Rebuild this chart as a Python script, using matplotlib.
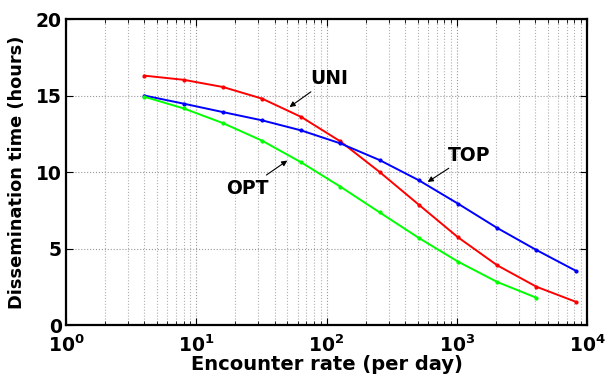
import matplotlib
matplotlib.use("Agg")
import matplotlib.pyplot as plt
import matplotlib.ticker as ticker

plt.rcParams['font.family'] = ['DejaVu Sans']
plt.rcParams['font.weight'] = 'bold'
plt.rcParams['mathtext.fontset'] = 'custom'
plt.rcParams['mathtext.rm'] = 'DejaVu Sans:bold'
plt.rcParams['mathtext.it'] = 'DejaVu Sans:bold'
plt.rcParams['mathtext.bf'] = 'DejaVu Sans:bold'

# encounter rates (per day)
rate = [4, 8, 16, 32, 64, 128, 256, 512, 1024, 2048, 4096, 8192]
uni = [16.3, 16.03, 15.56, 14.8, 13.6, 12.0, 10.0, 7.86, 5.73, 3.9, 2.5, 1.52]
top = [15.0, 14.47, 13.92, 13.38, 12.72, 11.87, 10.78, 9.46, 7.93, 6.34, 4.9, 3.55]
opt = [14.92, 14.16, 13.2, 12.05, 10.63, 9.04, 7.36, 5.69, 4.14, 2.81, 1.78]

xticks = [1, 10, 100, 1000, 10000]
xticklabels = [r'$10^{0}$', r'$10^{1}$', r'$10^{2}$', r'$10^{3}$', r'$10^{4}$']
yticks = [0, 5, 10, 15, 20]

fig = plt.figure(figsize=(6.06, 3.74), dpi=100)
ax = fig.add_axes([0.109, 0.131, 0.8596, 0.818])

ax.plot(rate, uni, '-', color='#ff0000', lw=1.4, marker='.', ms=4)
ax.plot(rate, top, '-', color='#0000ff', lw=1.4, marker='.', ms=4)
ax.plot(rate[:len(opt)], opt, '-', color='#00ff00', lw=1.4, marker='.', ms=4)

ax.set_xscale('log')
ax.set_xlim(1, 10000)
ax.set_ylim(0, 20)
ax.set_xticks(xticks)
ax.set_xticklabels(xticklabels)
ax.set_yticks(yticks)
ax.xaxis.set_minor_locator(ticker.LogLocator(base=10, subs=range(2, 10)))
ax.xaxis.set_minor_formatter(ticker.NullFormatter())

ax.grid(True, which='major', ls=':', color='#999999', lw=0.8)
ax.grid(True, which='minor', axis='x', ls=':', color='#b0b0b0', lw=0.8)
ax.tick_params(which='both', direction='in', top=True, right=True)
ax.tick_params(which='major', labelsize=13.5, length=5)
ax.tick_params(axis='y', pad=3)
ax.tick_params(axis='x', pad=7)
ax.tick_params(which='minor', length=3)
for s in ax.spines.values():
    s.set_linewidth(1.6)

ax.set_xlabel('Encounter rate (per day)', fontsize=14, fontweight='bold', labelpad=-1)
ax.set_ylabel('Dissemination time (hours)', fontsize=12.8, fontweight='bold', labelpad=7)

arrow = dict(arrowstyle='-|>', color='black', lw=0.8, mutation_scale=8, shrinkA=1, shrinkB=0)
ax.annotate('UNI', xy=(52, 14.25), xytext=(75, 16.1), fontsize=13.5, fontweight='bold',
            ha='left', va='center', arrowprops=arrow)
ax.annotate('OPT', xy=(50, 10.75), xytext=(36, 8.95), fontsize=13.5, fontweight='bold',
            ha='right', va='center', arrowprops=arrow)
ax.annotate('TOP', xy=(598, 9.35), xytext=(851, 11.1), fontsize=13.5, fontweight='bold',
            ha='left', va='center', arrowprops=arrow)

fig.savefig('out.png', dpi=100)
